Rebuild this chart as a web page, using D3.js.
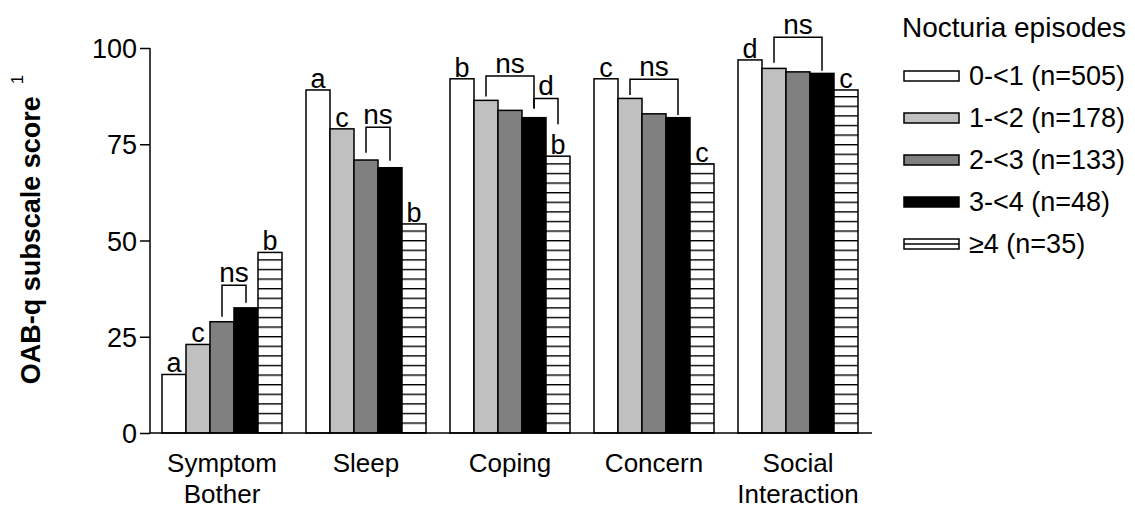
<!DOCTYPE html>
<html>
<head>
<meta charset="utf-8">
<script src="https://cdn.jsdelivr.net/npm/d3@7"></script>
<style>
  body { margin: 0; background: #fff; }
  svg text { font-family: "Liberation Sans", Arial, sans-serif; fill: #000; }
</style>
</head>
<body>
<div id="chart"></div>
<script>
  var categories = ["Symptom Bother", "Sleep", "Coping", "Concern", "Social Interaction"];
  var catLines   = [["Symptom", "Bother"], ["Sleep"], ["Coping"], ["Concern"], ["Social", "Interaction"]];
  var groups     = ["0-<1 (n=505)", "1-<2 (n=178)", "2-<3 (n=133)", "3-<4 (n=48)", "\u22654 (n=35)"];

  // mean subscale score per nocturia group, one value per category
  var score0 = [15.2, 89.1, 92.0, 92.0, 96.9];
  var score1 = [23.0, 79.0, 86.4, 86.9, 94.7];
  var score2 = [28.9, 70.9, 83.8, 82.9, 93.8];
  var score3 = [32.5, 68.9, 81.9, 81.9, 93.4];
  var score4 = [46.9, 54.3, 71.9, 69.9, 89.1];
  var scores = [score0, score1, score2, score3, score4];

  var yTicks = [0, 25, 50, 75, 100];

  // letters over single bars: [category index, group index, letter]
  var letters = [
    [0, 0, "a"], [0, 1, "c"], [0, 4, "b"],
    [1, 0, "a"], [1, 1, "c"], [1, 4, "b"],
    [2, 0, "b"], [2, 4, "b"],
    [3, 0, "c"], [3, 4, "c"],
    [4, 0, "d"], [4, 4, "c"]
  ];

  // brackets: category, from group, to group, bar level, left/right leg ends, label
  var brackets = [
    [0, 2, 3, 38.4, 30.2, 33.8, "ns"],
    [1, 2, 3, 79.4, 72.8, 70.7, "ns"],
    [2, 1, 3, 92.7, 87.4, 84.3, "ns"],
    [2, 3, 4, 86.9, 84.3, 80.2, "d"],
    [3, 1, 3, 91.9, 87.8, 82.6, "ns"],
    [4, 1, 3, 102.8, 96.2, 94.1, "ns"]
  ];

  var fills = ["#ffffff", "#c0c0c0", "#808080", "#000000", "url(#stripes)"];

  var W = 1135, H = 508;
  var svg = d3.select("#chart").append("svg")
    .attr("width", W)
    .attr("height", H);

  var pat = svg.append("defs").append("pattern")
    .attr("id", "stripes")
    .attr("patternUnits", "userSpaceOnUse")
    .attr("width", 24)
    .attr("height", 9.6);
  pat.append("rect").attr("width", 24).attr("height", 9.6).attr("fill", "#fff");
  pat.append("rect").attr("y", 0).attr("width", 24).attr("height", 1.4).attr("fill", "#000");

  var y = d3.scaleLinear().domain([0, 100]).range([433, 48]);
  var x0 = d3.scaleBand().domain(categories).range([150, 870])
    .paddingInner(1 / 6).paddingOuter(1 / 12);
  var x1 = d3.scaleBand().domain(d3.range(groups.length)).range([0, x0.bandwidth()]);

  // bars
  var bars = [];
  categories.forEach(function(c, ci){
    scores.forEach(function(s, gi){
      bars.push({cat: c, g: gi, v: s[ci]});
    });
  });

  svg.selectAll("rect.bar")
    .data(bars)
    .enter()
    .append("rect")
    .attr("class", "bar")
    .attr("x", function(d){ return x0(d.cat) + x1(d.g); })
    .attr("y", function(d){ return y(d.v); })
    .attr("width", x1.bandwidth())
    .attr("height", function(d){ return y(0) - y(d.v); })
    .attr("fill", function(d){ return fills[d.g]; })
    .attr("stroke", "#000")
    .attr("stroke-width", 1.5);

  // axes
  var yAxis = svg.append("g")
    .attr("transform", "translate(150,0)")
    .call(d3.axisLeft(y).tickValues(yTicks).tickSize(10).tickPadding(3));
  yAxis.select(".domain").attr("d", "M0," + y(100) + "V" + y(0)).attr("stroke-width", 1.5);
  yAxis.selectAll(".tick line").attr("stroke-width", 1.5);
  yAxis.selectAll(".tick text")
    .attr("font-size", 27)
    .attr("font-family", "Liberation Sans, Arial, sans-serif")
    .attr("dy", "0.36em");

  svg.append("line")
    .attr("x1", 150).attr("x2", 872)
    .attr("y1", y(0)).attr("y2", y(0))
    .attr("stroke", "#000").attr("stroke-width", 1.5);

  // category labels
  var catG = svg.selectAll("g.cat")
    .data(categories)
    .enter()
    .append("g")
    .attr("class", "cat")
    .attr("transform", function(d){ return "translate(" + (x0(d) + x0.bandwidth() / 2) + ",0)"; });
  catG.each(function(d, i){
    d3.select(this).selectAll("text")
      .data(catLines[i])
      .enter()
      .append("text")
      .attr("text-anchor", "middle")
      .attr("font-size", 26)
      .attr("y", function(t, j){ return 472 + j * 30.5; })
      .text(function(t){ return t; });
  });

  // y label
  var yl = svg.append("text")
    .attr("transform", "translate(40," + ((y(0) + y(100)) / 2 - 11) + ") rotate(-90)")
    .attr("text-anchor", "middle")
    .attr("font-size", 27)
    .attr("font-weight", "bold");
  yl.append("tspan").text("OAB-q subscale score");
  yl.append("tspan").attr("font-size", 17).attr("font-weight", "normal")
    .attr("dx", 12).attr("dy", -17).text("1");

  // letters over bars
  svg.selectAll("text.letter")
    .data(letters)
    .enter()
    .append("text")
    .attr("class", "letter")
    .attr("text-anchor", "middle")
    .attr("font-size", 27)
    .attr("x", function(d){ return x0(categories[d[0]]) + x1(d[1]) + x1.bandwidth() / 2; })
    .attr("y", function(d){ return y(scores[d[1]][d[0]]) - 2; })
    .text(function(d){ return d[2]; });

  // significance brackets
  var br = svg.selectAll("g.bracket")
    .data(brackets)
    .enter()
    .append("g")
    .attr("class", "bracket");
  br.append("path")
    .attr("fill", "none")
    .attr("stroke", "#000")
    .attr("stroke-width", 1.5)
    .attr("d", function(d){
      var c = categories[d[0]];
      var xa = x0(c) + x1(d[1]) + x1.bandwidth() / 2;
      var xb = x0(c) + x1(d[2]) + x1.bandwidth() / 2;
      return "M" + xa + "," + y(d[4]) + "V" + y(d[3]) + "H" + xb + "V" + y(d[5]);
    });
  br.append("text")
    .attr("text-anchor", "middle")
    .attr("font-size", 28)
    .attr("x", function(d){
      var c = categories[d[0]];
      return x0(c) + (x1(d[1]) + x1(d[2]) + x1.bandwidth()) / 2;
    })
    .attr("y", function(d){ return y(d[3]) - 3; })
    .text(function(d){ return d[6]; });

  // legend
  var legend = svg.append("g").attr("transform", "translate(902,0)");
  legend.append("text")
    .attr("x", 0).attr("y", 37)
    .attr("font-size", 28)
    .text("Nocturia episodes");

  var item = legend.selectAll("g.item")
    .data(groups)
    .enter()
    .append("g")
    .attr("class", "item")
    .attr("transform", function(d, i){ return "translate(0," + (85 + i * 42) + ")"; });
  item.append("rect")
    .attr("x", 2).attr("y", -14)
    .attr("width", 55).attr("height", 10)
    .attr("fill", function(d, i){ return i == 4 ? "#fff" : fills[i]; })
    .attr("stroke", "#000")
    .attr("stroke-width", 1.5);
  item.filter(function(d, i){ return i == 4; })
    .append("line")
    .attr("x1", 2).attr("x2", 57)
    .attr("y1", -9).attr("y2", -9)
    .attr("stroke", "#000").attr("stroke-width", 1.5);
  item.append("text")
    .attr("x", 67).attr("y", 0)
    .attr("font-size", 27)
    .text(function(d){ return d; });
</script>
</body>
</html>
